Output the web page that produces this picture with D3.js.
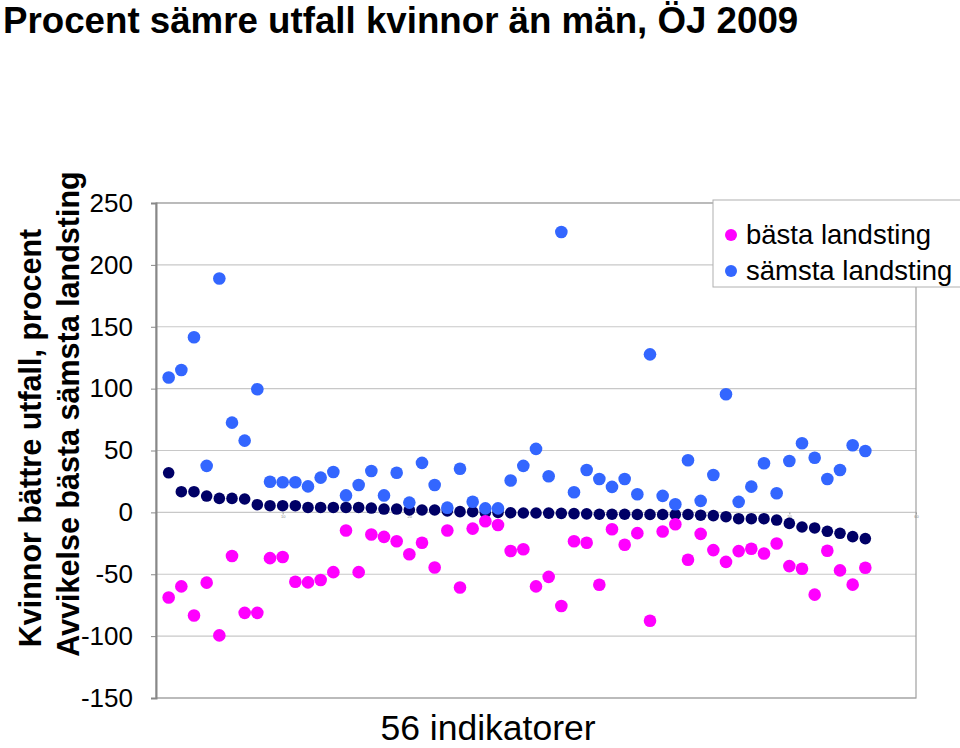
<!DOCTYPE html>
<html>
<head>
<meta charset="utf-8">
<script src="https://cdn.jsdelivr.net/npm/d3@7"></script>
<style>
  body { margin: 0; background: #fff; }
  svg { display: block; font-family: "Liberation Sans", Arial, sans-serif; }
</style>
</head>
<body>
<svg id="chart" width="960" height="748"></svg>
<script>
const indicators = d3.range(1, 57);
const median = [32, 16.7, 16.7, 13.2, 11.3, 11.3, 10.8, 6.2, 5.4, 5.4, 5.4, 4,
  4, 4, 4, 4, 3.5, 2.7, 2.7, 1.9, 1.9, 1.9, 1.2, 0.6, 0.5, 0, 0, -0.3, -0.5, -0.5, -0.6, -0.8, -1, -1.2,
  -1.5, -1.5, -1.5, -1.7, -1.7, -1.7, -1.7, -1.7, -2.3, -2.6, -3.5, -5.1, -5.1, -5.1, -6.2, -8.9,
  -11.8, -12.6, -15.3, -16.9, -19.6, -21.2];
const best = [-68.8, -59.8, -83.3, -56.8, -99.4, -35.3, -81.2, -81.2, -37, -36, -56, -56.6,
  -54.7, -48.3, -14.7, -48.3, -17.9, -19.8, -23.3, -33.8, -24.6, -44.5, -14.7, -60.7, -13.1, -7.2,
  -10.2, -31.2, -29.8, -59.8, -52.1, -75.7, -23.3, -24.5, -58.5, -13.6, -26.2, -16.8, -87.6, -15.5,
  -9.6, -38.3, -17.4, -30.5, -40, -31.3, -29.4, -33.2, -25.1, -43.4, -45.5, -66.5, -31, -46.9, -58.4, -44.7];
const worst = [109, 115, 141.5, 37.6, 189, 72.5, 58, 99.5, 24.8, 24.3, 24.3, 21,
  28.1, 32.6, 13.7, 22.1, 33.4, 13.7, 32, 7.9, 40, 22.1, 3.8, 35.2, 8.6, 3.2, 3.2, 25.7, 37.6,
  51.3, 29.2, 226.6, 16.3, 34.3, 27, 20.6, 27, 14.7, 127.7, 13.3, 6.6, 42.1, 9.3, 30.2, 95.5,
  8.5, 20.8, 39.7, 15.5, 41.5, 55.8, 44.2, 27, 34.3, 54.2, 49.6];
const yTicks = [250, 200, 150, 100, 50, 0, -50, -100, -150];
const xTicks = [10, 20, 30, 40, 50, 60];
const legendLabels = ["bästa landsting", "sämsta landsting"];
const title = "Procent sämre utfall kvinnor än män, ÖJ 2009";
const yTitle1 = "Kvinnor bättre utfall, procent";
const yTitle2 = "Avvikelse bästa sämsta landsting";
const xTitle = "56 indikatorer";

const colors = { median: "#000066", best: "#FF00FF", worst: "#3366FF" };

const svg = d3.select("#chart");
const L = 156, R = 916, T = 203, B = 698;
const x = d3.scaleLinear().domain([0, 60]).range([L, R]);
const y = d3.scaleLinear().domain([-150, 250]).range([B, T]);

// gridlines
svg.append("g").selectAll("line").data(yTicks).join("line")
  .attr("x1", L).attr("x2", R)
  .attr("y1", d => y(d)).attr("y2", d => y(d))
  .attr("stroke", "#c8c8c8").attr("stroke-width", 1.2);

// plot border
svg.append("rect").attr("x", L).attr("y", T).attr("width", R - L).attr("height", B - T)
  .attr("fill", "none").attr("stroke", "#a0a0a0").attr("stroke-width", 1.2);

// y axis
const yAxis = d3.axisLeft(y).tickValues(yTicks).tickSize(5).tickPadding(18)
  .tickFormat(d => String(d));
const ya = svg.append("g").attr("transform", `translate(${L},0)`).call(yAxis);
ya.select(".domain").attr("stroke", "#888").attr("stroke-width", 2);
ya.selectAll(".tick line").attr("stroke", "#888");
ya.selectAll(".tick text").attr("font-size", 26).attr("fill", "#000")
  .attr("font-family", "Liberation Sans, Arial, sans-serif");

// tiny x labels on the zero line
const xa = d3.axisBottom(x).tickValues(xTicks).tickSize(2).tickPadding(1);
const xg = svg.append("g").attr("transform", `translate(0,${y(0)})`).call(xa);
xg.select(".domain").remove();
xg.selectAll(".tick line").attr("stroke", "#999");
xg.selectAll(".tick text").attr("font-size", 4).attr("fill", "#888");

// points
function series(data, color, r) {
  svg.append("g").selectAll("circle").data(data).join("circle")
    .attr("cx", (d, i) => x(indicators[i]))
    .attr("cy", d => y(d))
    .attr("r", r)
    .attr("fill", color);
}
series(median, colors.median, 5.8);
series(best, colors.best, 6.3);
series(worst, colors.worst, 6.3);

// title
svg.append("text").attr("x", 3).attr("y", 33).text(title)
  .attr("font-size", 36.7).attr("font-weight", "bold");

// y titles
svg.append("text").attr("transform", "translate(41,438) rotate(-90)")
  .attr("text-anchor", "middle").attr("font-size", 30.5).attr("font-weight", "bold").text(yTitle1);
svg.append("text").attr("transform", "translate(79,414) rotate(-90)")
  .attr("text-anchor", "middle").attr("font-size", 30.5).attr("font-weight", "bold").text(yTitle2);

// x title
svg.append("text").attr("x", 488).attr("y", 740).attr("text-anchor", "middle")
  .attr("font-size", 35.5).text(xTitle);

// legend
const lg = svg.append("g");
lg.append("rect").attr("x", 713).attr("y", 200).attr("width", 260).attr("height", 87)
  .attr("fill", "#fff").attr("stroke", "#b0b0b0").attr("stroke-width", 1);
[colors.best, colors.worst].forEach((c, i) => {
  lg.append("circle").attr("cx", 731).attr("cy", 235 + i * 36).attr("r", 6).attr("fill", c);
  lg.append("text").attr("x", 746).attr("y", 244 + i * 36).attr("font-size", 27.5).text(legendLabels[i]);
});
</script>
</body>
</html>
